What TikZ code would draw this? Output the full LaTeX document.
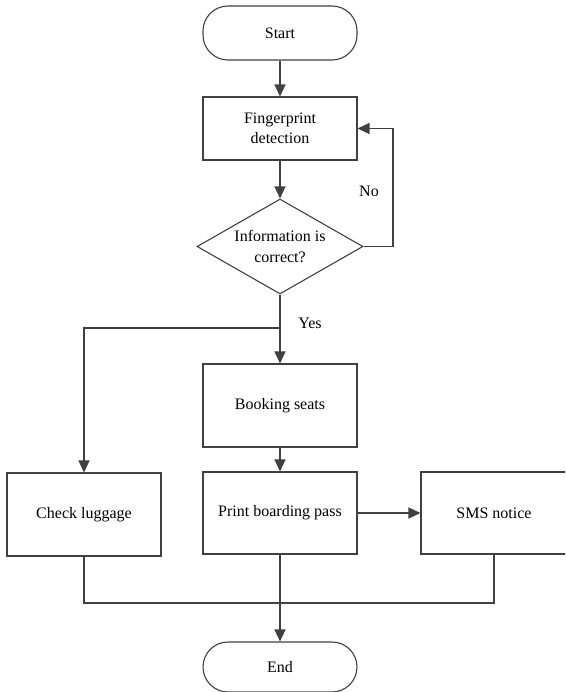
\documentclass[tikz,border=0pt]{standalone}
\usepackage{fontspec}
\setmainfont{Liberation Serif}
\usetikzlibrary{arrows.meta,shapes.geometric,calc}
\begin{document}
\begin{tikzpicture}[x=1pt,y=-1pt,
  line/.style={draw=lc, line width=1.3pt},
  arr/.style={line, -{Triangle[width=11pt,length=12pt]}},
  term/.style={draw=lc, line width=1.1pt, rectangle, rounded corners=25pt, minimum width=154pt, minimum height=54pt, inner sep=0pt, font=\fontsize{16}{19}\selectfont},
  proc/.style={draw=lc, line width=1.1pt, rectangle, minimum width=154pt, inner sep=0pt, align=center, font=\fontsize{16}{20.5}\selectfont},
  dec/.style={draw=lc, line width=1.1pt, diamond, minimum width=166pt, minimum height=95pt, inner sep=0pt},
  lab/.style={font=\fontsize{16}{19}\selectfont, align=center}
]
\definecolor{lc}{RGB}{64,64,64}
\useasboundingbox (0,0) rectangle (565,692);
\begin{scope}
\clip (0,0) rectangle (565,692);
\node[term] (start) at (280,33) {Start};
\node[proc, minimum height=63pt] (finger) at (280,128.5) {Fingerprint\\detection};
\node[dec] (info) at (280,246.5) {};
\node[lab, font=\fontsize{16}{20.5}\selectfont] (infotext) at (info.center) {Information is\\correct?};
\node[proc, minimum height=83pt] (book) at (280,405.5) {Booking seats};
\node[proc, minimum height=83pt] (check) at (84,514.5) {Check luggage};
\node[proc, minimum height=82pt] (print) at (280,513) {Print boarding pass};
\node[proc, minimum height=82pt, minimum width=146pt] (sms) at (494,513) {SMS notice};
\node[term, minimum height=50pt] (end) at (280,667) {End};

\coordinate (loop) at (393,246.5);
\coordinate (branch) at (280,328);
\coordinate (merge) at (280,603);

\draw[arr] (start) -- (finger);
\draw[arr] (finger) -- (info);
\draw[arr] (info.east) -- (loop) |- (finger.east);
\draw[line] (info.south) -- (branch);
\draw[arr] (branch) -- (book);
\draw[arr] (branch) -| (check.north);
\draw[arr] (book) -- (print);
\draw[arr] (print) -- (sms);
\draw[line] (check.south) |- (merge);
\draw[line] (sms.south) |- (merge);
\draw[arr] (print.south) -- (end.north);

\node[lab] (no) at (369,191) {No};
\node[lab] (yes) at (310,323) {Yes};
\end{scope}
\end{tikzpicture}
\end{document}
